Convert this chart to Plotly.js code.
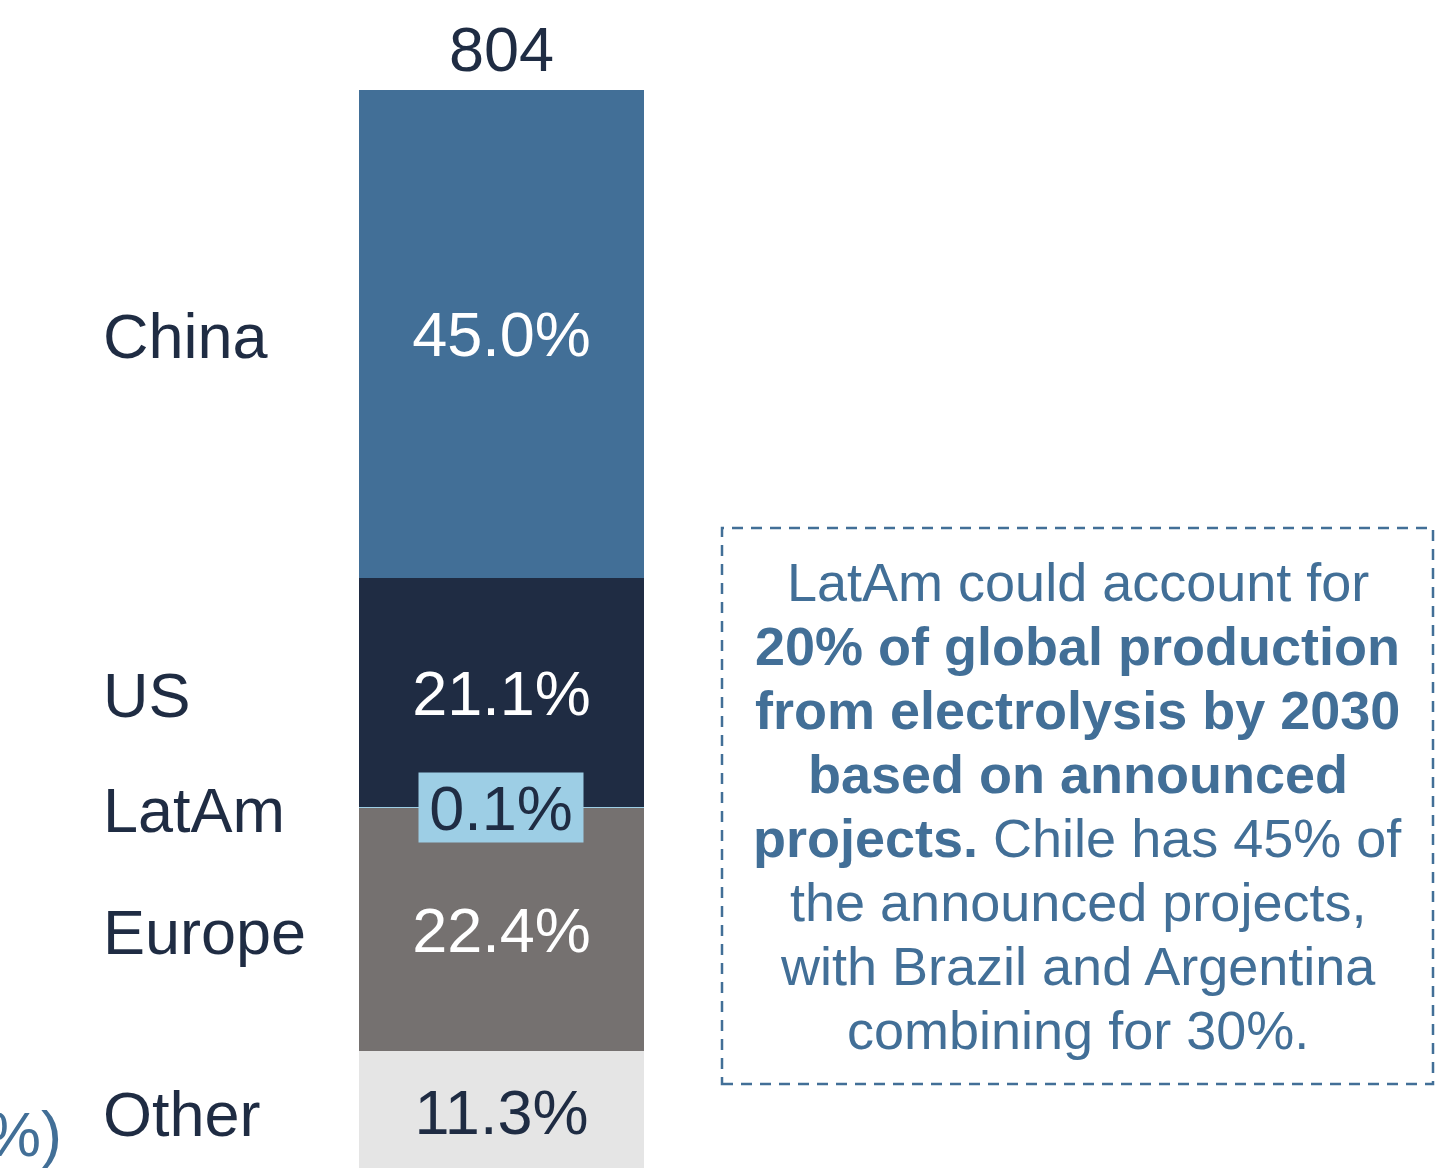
<!DOCTYPE html>
<html>
<head>
<meta charset="utf-8">
<script src="https://cdn.plot.ly/plotly-3.0.1.min.js"></script>
<style>
html, body { margin: 0; padding: 0; background: #ffffff; overflow: hidden; }
#chart { width: 1446px; height: 1168px; }
</style>
</head>
<body>
<div id="chart"></div>
<script>
// ---- data ----
const categories = ['Other', 'Europe', 'LatAm', 'US', 'China'];
const shares = [11.3, 22.4, 0.1, 21.1, 45.0];
const totalValue = 804;
const unitLabel = '(%)';
const noteLines = [
  'LatAm could account for',
  '<b>20% of global production</b>',
  '<b>from electrolysis by 2030</b>',
  '<b>based on announced</b>',
  '<b>projects.</b> Chile has 45% of',
  'the announced projects,',
  'with Brazil and Argentina',
  'combining for 30%.'
];

// ---- styles ----
const segmentColors = ['#e5e5e5', '#757170', '#9dcee5', '#1f2c43', '#426f97'];
const segmentTextColors = ['#1f2c43', '#ffffff', '#1f2c43', '#ffffff', '#ffffff'];
const darkText = '#1f2c43';
const accent = '#426f97';
const FONT = '"Liberation Sans", Arial, Helvetica, sans-serif';
const W = 1446, H = 1168;
const px = v => v / W;
const py = v => 1 - v / H;

const traces = categories.map((c, i) => ({
  type: 'bar',
  name: c,
  x: [0],
  y: [shares[i]],
  width: 1,
  marker: { color: segmentColors[i], line: { width: 0 } },
  text: [c === 'LatAm' ? '' : shares[i].toFixed(1) + '%'],
  textposition: c === 'LatAm' ? 'none' : 'inside',
  insidetextanchor: 'middle',
  constraintext: 'none',
  textfont: { family: FONT, size: 63, color: segmentTextColors[i] },
  hoverinfo: 'skip',
  showlegend: false
}));

const annotations = [];
let cum = 0;
categories.forEach((c, i) => {
  const mid = cum + shares[i] / 2;
  annotations.push({
    xref: 'paper', yref: 'y', x: px(101), y: mid,
    xanchor: 'left', yanchor: 'middle', yshift: -2,
    text: c, showarrow: false,
    font: { family: FONT, size: 63, color: darkText }
  });
  if (c === 'LatAm') {
    annotations.push({
      xref: 'x', yref: 'y', x: 0, y: mid,
      xanchor: 'center', yanchor: 'middle',
      text: shares[i].toFixed(1) + '%', showarrow: false,
      bgcolor: segmentColors[i], borderpad: 2,
      width: 160, height: 65, align: 'center', valign: 'middle',
      font: { family: FONT, size: 63, color: darkText }
    });
  }
  cum += shares[i];
});

// total above bar
annotations.push({
  xref: 'x', yref: 'y', x: 0, y: cum,
  xanchor: 'center', yanchor: 'bottom', yshift: 4,
  text: String(totalValue), showarrow: false,
  font: { family: FONT, size: 63, color: darkText }
});

// unit label partly off-page
annotations.push({
  xref: 'paper', yref: 'paper', x: px(64), y: py(1134),
  xanchor: 'right', yanchor: 'middle',
  text: unitLabel, showarrow: false,
  font: { family: FONT, size: 63, color: accent }
});

// note lines
noteLines.forEach((t, i) => {
  annotations.push({
    xref: 'paper', yref: 'paper', x: px(1077.5), y: py(582 + i * 64),
    xanchor: 'center', yanchor: 'middle',
    text: t, showarrow: false,
    font: { family: FONT, size: 54, color: accent }
  });
});

const layout = {
  width: W, height: H,
  margin: { l: 0, r: 0, t: 0, b: 0, pad: 0 },
  paper_bgcolor: '#ffffff', plot_bgcolor: '#ffffff',
  barmode: 'stack',
  bargap: 0,
  showlegend: false,
  xaxis: { visible: false, range: [-1.7596, 3.314], fixedrange: true },
  yaxis: { visible: false, range: [0.516, 108.195], fixedrange: true },
  annotations: annotations,
  shapes: [{
    type: 'rect', xref: 'paper', yref: 'paper',
    x0: px(722), x1: px(1433), y0: py(1084), y1: py(528),
    line: { color: accent, width: 2.5, dash: '11px,8px' },
    fillcolor: 'rgba(0,0,0,0)'
  }]
};

Plotly.newPlot('chart', traces, layout, { displayModeBar: false, staticPlot: true });
</script>
</body>
</html>
